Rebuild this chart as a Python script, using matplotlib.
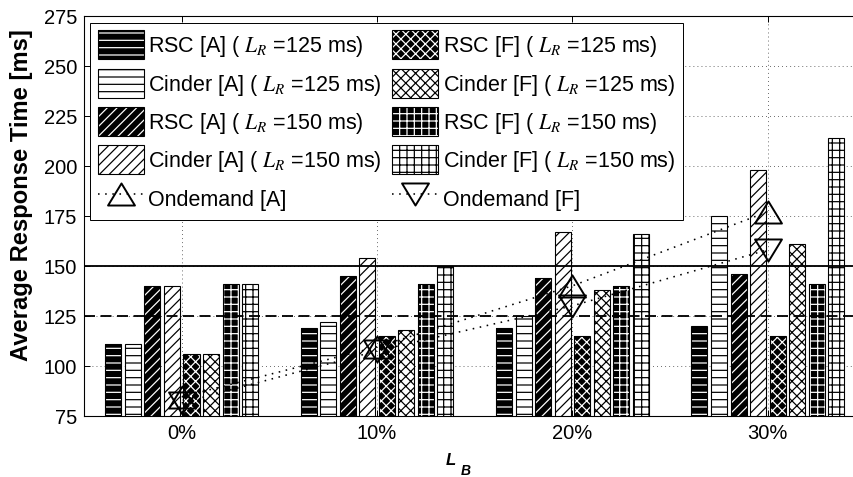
import matplotlib
matplotlib.use('Agg')
import matplotlib.pyplot as plt
import numpy as np
from matplotlib.font_manager import FontProperties
from matplotlib.path import Path

plt.rcParams['font.family'] = 'Liberation Sans'
plt.rcParams['mathtext.fontset'] = 'stix'
plt.rcParams['hatch.linewidth'] = 1.0

# data
groups = ['0%', '10%', '20%', '30%']
rsc_a_125 = [111, 119, 119, 120]
cinder_a_125 = [111, 122, 125, 175]
rsc_a_150 = [140, 145, 144, 146]
cinder_a_150 = [140, 154, 167, 198]
rsc_f_125 = [106, 115, 115, 115]
cinder_f_125 = [106, 118, 138, 161]
rsc_f_150 = [141, 141, 140, 141]
cinder_f_150 = [141, 150, 166, 214]
ondemand_a = [84.5, 109.5, 140, 177]
ondemand_f = [81.5, 107.5, 130, 158]

series = [
    ('RSC [A] ( $L_R$ =125 ms)', rsc_a_125, True, '--'),
    ('Cinder [A] ( $L_R$ =125 ms)', cinder_a_125, False, '--'),
    ('RSC [A] ( $L_R$ =150 ms)', rsc_a_150, True, '///'),
    ('Cinder [A] ( $L_R$ =150 ms)', cinder_a_150, False, '///'),
    ('RSC [F] ( $L_R$ =125 ms)', rsc_f_125, True, 'xxx'),
    ('Cinder [F] ( $L_R$ =125 ms)', cinder_f_125, False, 'xxx'),
    ('RSC [F] ( $L_R$ =150 ms)', rsc_f_150, True, '++'),
    ('Cinder [F] ( $L_R$ =150 ms)', cinder_f_150, False, '++'),
]

DPI = 88
fig = plt.figure(figsize=(853.5 / DPI, 477.5 / DPI), dpi=DPI)
ax = fig.add_axes([84 / 853, 61 / 477, 781 / 853, 400 / 477])

x = np.arange(1, len(groups) + 1)
pitch = 0.1
width = 0.082

bar_handles = []
for i, (label, vals, dark, hatch) in enumerate(series):
    pos = x + (i - 3.5) * pitch
    if dark:
        b1 = ax.bar(pos, vals, width, color='black', edgecolor='white', hatch=hatch,
                    linewidth=0, zorder=2)
        b2 = ax.bar(pos, vals, width, fill=False, edgecolor='black', linewidth=0.9, zorder=2.1)
        bar_handles.append((b1, b2))
    else:
        b = ax.bar(pos, vals, width, color='white', edgecolor='black', hatch=hatch,
                   linewidth=0.9, zorder=2)
        bar_handles.append(b)

ax.axhline(150, color='black', lw=1.5, zorder=3)
ax.axhline(125, color='black', lw=1.5, ls=(0, (6, 3)), zorder=3)

tri_up = Path([(0, 0.82), (-1, -0.82), (1, -0.82), (0, 0.82)],
              [Path.MOVETO, Path.LINETO, Path.LINETO, Path.CLOSEPOLY])
tri_down = Path([(0, -0.82), (-1, 0.82), (1, 0.82), (0, -0.82)],
                [Path.MOVETO, Path.LINETO, Path.LINETO, Path.CLOSEPOLY])

la, = ax.plot(x, ondemand_a, color='black', lw=1.3, ls=(0, (1, 3.5)), marker=tri_up,
              ms=22, mfc='none', mec='black', mew=1.6, zorder=4)
lf, = ax.plot(x, ondemand_f, color='black', lw=1.3, ls=(0, (1, 3.5)), marker=tri_down,
              ms=22, mfc='none', mec='black', mew=1.6, zorder=4)

ax.set_xlim(0.5, 4.5)
ax.set_ylim(75, 275)
ax.set_xticks(x)
ax.set_xticklabels(groups)
ax.set_yticks(np.arange(75, 276, 25))
ax.grid(True, color='black', ls=(0, (1, 4.5)), lw=0.6)
ax.set_axisbelow(True)
ax.tick_params(axis='both', direction='in', length=5, width=0.8, top=True, right=True,
               labelsize=16.5)
ax.tick_params(axis='x', pad=6)
ax.tick_params(axis='y', pad=5.5)
for s in ax.spines.values():
    s.set_linewidth(0.9)

ax.set_ylabel('Average Response Time [ms]', fontsize=19.4, fontweight='bold')
ax.yaxis.set_label_coords(-(84 - 33) / 781, 0.5525)

fig.text(445 / 853, (477 - 465) / 477, 'L', fontsize=13.7, fontweight='bold', style='italic',
         ha='left', va='baseline')
fig.text(460 / 853, (477 - 475) / 477, 'B', fontsize=11.4, fontweight='bold', style='italic',
         ha='left', va='baseline')

handles = bar_handles[:4] + [la] + bar_handles[4:] + [lf]
labels = [s[0] for s in series[:4]] + ['Ondemand [A]'] + [s[0] for s in series[4:]] + ['Ondemand [F]']
leg = ax.legend(handles, labels, ncol=2, loc='upper left',
                bbox_to_anchor=(90 / 853, 1 - 23.3 / 477), bbox_transform=fig.transFigure,
                borderaxespad=0,
                prop=FontProperties(family='Liberation Sans', size=17.6, math_fontfamily='stix'),
                handlelength=2.14, handleheight=1.7, labelspacing=0.43, handletextpad=0.2,
                columnspacing=0.5, borderpad=0.35, fancybox=False, edgecolor='black',
                framealpha=1)
leg.get_frame().set_linewidth(0.8)
leg.set_zorder(5)

fig.savefig('out.png', dpi=DPI)
